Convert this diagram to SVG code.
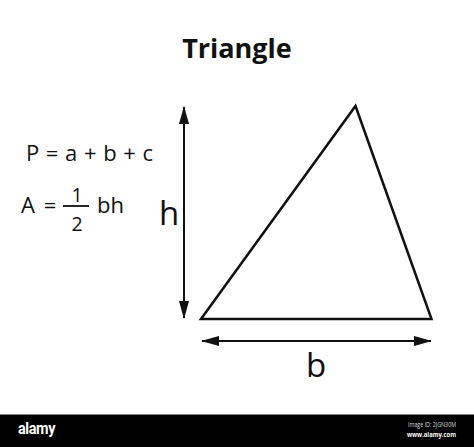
<svg xmlns="http://www.w3.org/2000/svg" width="474" height="447" viewBox="0 0 474 447">
<style>
.t{font-family:"Open Sans","Noto Sans","Liberation Sans",sans-serif;fill:#111}
.ln{stroke:#111;stroke-width:2.5;fill:none}
.ar{stroke:#111;stroke-width:2;fill:none}
</style>
<defs>
<marker id="ah" viewBox="0 0 18 10" refX="17" refY="5" markerWidth="18" markerHeight="10" markerUnits="userSpaceOnUse" orient="auto-start-reverse">
<path d="M0,0 L18,5 L0,10 Z" fill="#111"/>
</marker>
</defs>
<rect width="474" height="447" fill="#fff"/>
<text class="t" x="237" y="58" font-size="27" font-weight="bold" text-anchor="middle">Triangle</text>
<g id="formula-perimeter">
<text class="t" x="26" y="161" font-size="22" word-spacing="3" textLength="127" lengthAdjust="spacing">P = a + b + c</text>
</g>
<g id="formula-area">
<text class="t" x="21" y="213" font-size="22" word-spacing="3">A =</text>
<line x1="63" y1="206" x2="89" y2="206" stroke="#111" stroke-width="1.8"/>
<text class="t" x="77" y="202" font-size="19.5" text-anchor="middle">1</text>
<text class="t" x="77" y="231" font-size="19.5" text-anchor="middle">2</text>
<text class="t" x="97" y="213" font-size="22">bh</text>
</g>
<g id="triangle">
<polygon class="ln" points="201,319 355.5,106 431.5,319" stroke-linejoin="miter"/>
</g>
<g id="connectors">
<line class="ar" x1="184" y1="107" x2="184" y2="318" marker-start="url(#ah)" marker-end="url(#ah)"/>
<line class="ar" x1="202" y1="341" x2="431" y2="341" marker-start="url(#ah)" marker-end="url(#ah)"/>
</g>
<g id="label-h">
<text class="t" x="169" y="225" font-size="33" text-anchor="middle">h</text>
</g>
<g id="label-b">
<text class="t" x="316" y="377" font-size="33" text-anchor="middle">b</text>
</g>
<g id="footer">
<rect x="0" y="414" width="474" height="33" fill="#000"/>
<line x1="0" y1="414.5" x2="474" y2="414.5" stroke="#888" stroke-width="1"/>
<text x="18" y="434" font-family="Roboto,'Liberation Sans',sans-serif" font-size="17" font-weight="bold" fill="#fff" letter-spacing="-0.5" textLength="37" lengthAdjust="spacingAndGlyphs">alamy</text>
<text x="456" y="427" font-family="'Open Sans','Liberation Sans',sans-serif" font-size="6.5" fill="#ddd" text-anchor="end" textLength="48" lengthAdjust="spacingAndGlyphs">Image ID: 2JGN30M</text>
<text x="456" y="437" font-family="'Open Sans','Liberation Sans',sans-serif" font-size="7.5" font-weight="bold" fill="#fff" text-anchor="end" textLength="49" lengthAdjust="spacingAndGlyphs">www.alamy.com</text>
</g>
</svg>
